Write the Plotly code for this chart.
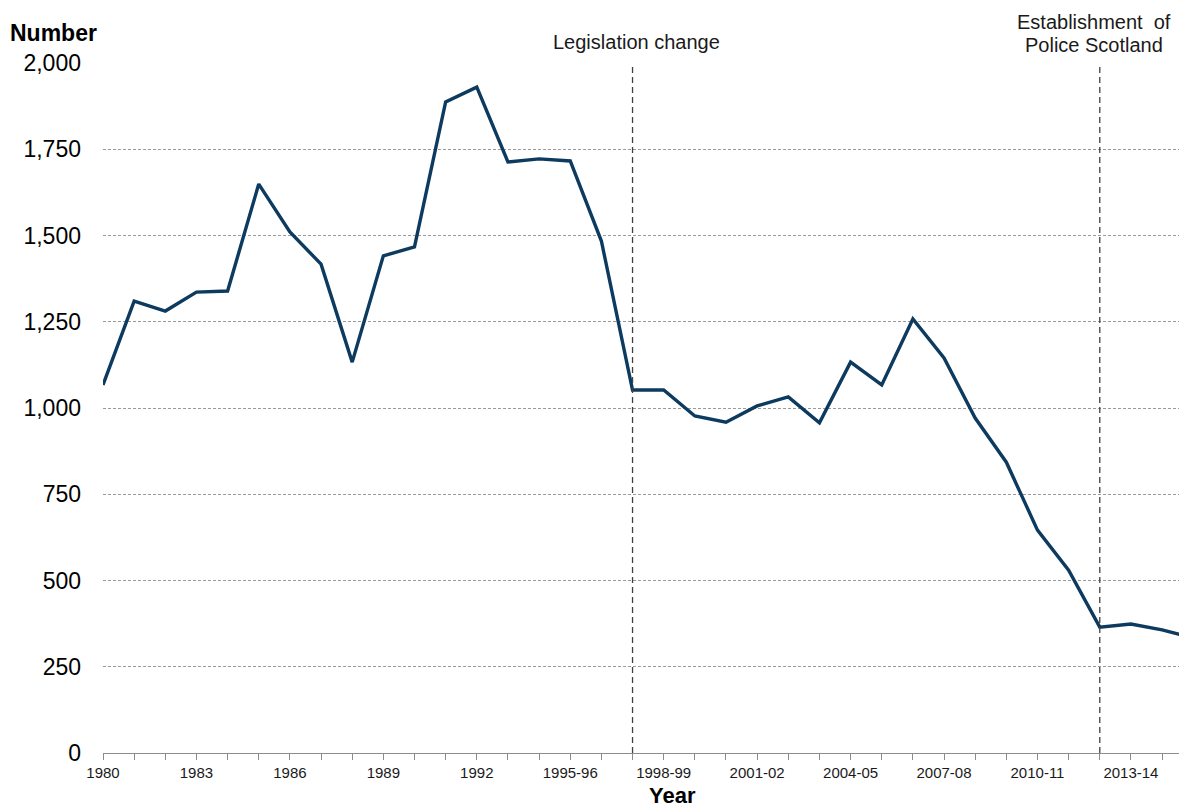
import plotly.graph_objects as go

years = ["1980", "1981", "1982", "1983", "1984", "1985", "1986", "1987", "1988", "1989",
         "1990", "1991", "1992", "1993", "1994", "1995-96", "1996-97", "1997-98", "1998-99",
         "1999-00", "2000-01", "2001-02", "2002-03", "2003-04", "2004-05", "2005-06",
         "2006-07", "2007-08", "2008-09", "2009-10", "2010-11", "2011-12", "2012-13",
         "2013-14", "2014-15", "2015-16"]
values = [1067, 1310, 1281, 1336, 1339, 1649, 1510, 1417, 1133, 1441,
          1467, 1887, 1930, 1713, 1722, 1716, 1484, 1052, 1052,
          977, 959, 1006, 1032, 957, 1133, 1067,
          1258, 1145, 971, 843, 646, 530, 365,
          374, 357, 333]
labelled_years = ["1980", "1983", "1986", "1989", "1992", "1995-96", "1998-99",
                  "2001-02", "2004-05", "2007-08", "2010-11", "2013-14"]
y_ticks = [0, 250, 500, 750, 1000, 1250, 1500, 1750, 2000]
event_years = ["1997-98", "2012-13"]
event_labels = [["Legislation change"], ["Establishment  of", "Police Scotland"]]

FONT = "Liberation Sans, Arial, sans-serif"

fig = go.Figure()
fig.add_trace(go.Scatter(
    x=years, y=values, mode="lines",
    line=dict(color="#0d3a5f", width=3.4),
    cliponaxis=False, showlegend=False,
))

label_style = [dict(xshift=4, base=8), dict(xshift=-6, base=5)]
for cat, lines, st in zip(event_years, event_labels, label_style):
    fig.add_shape(type="line", xref="x", yref="y", x0=cat, x1=cat, y0=0, y1=2000,
                  line=dict(color="#404040", width=1.3, dash="6px,4px"), layer="above")
    for i, text in enumerate(reversed(lines)):
        fig.add_annotation(x=cat, xref="x", y=2000, yref="y",
                           yshift=st["base"] + 23 * i, xshift=st["xshift"], text=text,
                           showarrow=False, yanchor="bottom", xanchor="center",
                           font=dict(family=FONT, size=20, color="#1a1a1a"))

fig.add_annotation(x=0, xref="paper", xanchor="left", xshift=-95, y=1, yref="paper",
                   yanchor="middle", yshift=30, text="<b>Number</b>",
                   showarrow=False, font=dict(family=FONT, size=23, color="#000"))
fig.add_annotation(x=0.525, xref="paper", xanchor="center", y=0, yref="paper",
                   yanchor="middle", yshift=-42, text="<b>Year</b>",
                   showarrow=False, font=dict(family=FONT, size=22, color="#000"))

fig.update_layout(
    width=1179, height=799,
    margin=dict(l=95, r=0, t=55, b=54),
    paper_bgcolor="white", plot_bgcolor="white",
    font=dict(family=FONT, color="#000"),
    xaxis=dict(
        type="category", range=[0, 34.8],
        tickmode="array", tickvals=years,
        ticktext=[y if y in labelled_years else "" for y in years],
        tickangle=0,
        ticks="outside", ticklen=6, tickcolor="#8c8c8c", tickwidth=1.3,
        showline=True, linecolor="#8c8c8c", linewidth=1.3,
        showgrid=False, zeroline=False,
        tickfont=dict(family=FONT, size=15, color="#1a1a1a"),
    ),
    yaxis=dict(
        range=[0, 2000], tickmode="array", tickvals=y_ticks,
        tickformat=",d",
        showgrid=True, gridcolor="#9a9a9a", griddash="3px,2px", gridwidth=1,
        zeroline=False, showline=False, ticks="",
        ticklabelstandoff=21,
        tickfont=dict(family=FONT, size=23, color="#000"),
    ),
)

fig.write_html("out.html")
